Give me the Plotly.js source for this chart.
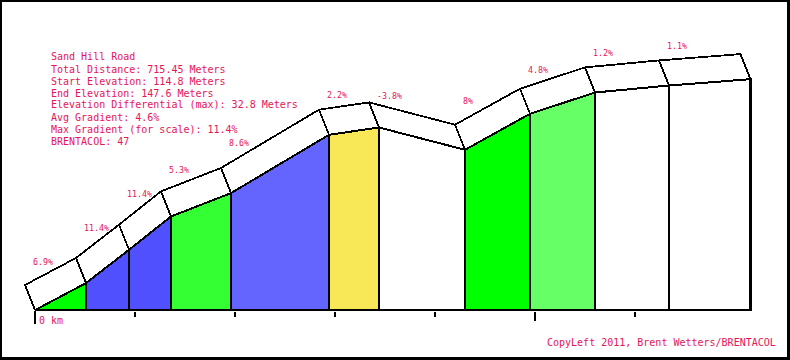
<!DOCTYPE html>
<html>
<head>
<meta charset="utf-8">
<script src="https://cdn.plot.ly/plotly-3.0.1.min.js"></script>
<style>
  html, body { margin: 0; padding: 0; background: #fff; }
  #wrap { position: relative; width: 790px; height: 360px; overflow: hidden; }
  #chart { position: absolute; left: 0; top: 0; width: 790px; height: 360px; }
  #chart .scatterlayer path { shape-rendering: crispEdges; }
  #frame { position: absolute; left: 0; top: 0; width: 790px; height: 360px; box-sizing: border-box;
           border-top: 2px solid #000; border-left: 2px solid #000; border-right: 3px solid #000; border-bottom: 3px solid #000;
           pointer-events: none; }
</style>
</head>
<body>
<div id="wrap"><div id="chart"></div><div id="frame"></div></div>
<script>
// ---------------- DATA ----------------
const dist = [0, 51, 94, 136, 196, 294, 344, 430, 495, 560, 634, 715.45];           // metres along road
const elev = [114.8, 118.64, 123.37, 128.10, 131.42, 139.70, 140.74, 137.57, 142.68, 145.71, 146.70, 147.6]; // metres
const gradients = [6.9, 11.4, 11.4, 5.3, 8.6, 2.2, -3.8, 8, 4.8, 1.2, 1.1];         // % per segment
const infoLines = [
  "Sand Hill Road",
  "Total Distance: 715.45 Meters",
  "Start Elevation: 114.8 Meters",
  "End Elevation: 147.6 Meters",
  "Elevation Differential (max): 32.8 Meters",
  "Avg Gradient: 4.6%",
  "Max Gradient (for scale): 11.4%",
  "BRENTACOL: 47"
];
const majorTicks = [0, 500];
const minorTicks = [100, 200, 300, 400, 600];
const axisLabel = "0 km";
const creditText = "CopyLeft 2011, Brent Wetters/BRENTACOL";

// ---------------- STYLE ----------------
const segColors = ['#00ff00', '#5050ff', '#5050ff', '#33ff33', '#6464ff', '#f8e858',
                   '#ffffff', '#00ff00', '#66ff66', '#ffffff', '#ffffff'];
const labelDy = [-48, -55, -56, -46, -50, -40, -31, -49, -44, -39, -39];
const textColor = '#e6145a';
const mono = 'DejaVu Sans Mono, Liberation Mono, monospace';

const W = 790, H = 360, marginB = 49, plotH = H - marginB;
const xOriginPx = 35, pxPerMx = 1;
const baselinePx = 310, pxPerMy = 7.04;
const xRange = [-xOriginPx / pxPerMx, (W - xOriginPx) / pxPerMx];
const yMax = elev[0] + baselinePx / pxPerMy;
const yMin = yMax - plotH / pxPerMy;
const depthX = -10 / pxPerMx;      // 3D offset of the back edge
const depthY = 25 / pxPerMy;

const base = elev[0];
const traces = [];
for (let i = 0; i < dist.length - 1; i++) {
  const d0 = dist[i], d1 = dist[i + 1], e0 = elev[i], e1 = elev[i + 1];
  traces.push({
    type: 'scatter', mode: 'lines', fill: 'toself', fillcolor: segColors[i],
    x: [d0, d0, d1, d1, d0], y: [base, e0, e1, base, base],
    line: { color: '#000', width: 2.2 }, hoverinfo: 'skip', showlegend: false
  });
}
for (let i = 0; i < dist.length - 1; i++) {
  const d0 = dist[i], d1 = dist[i + 1], e0 = elev[i], e1 = elev[i + 1];
  traces.push({
    type: 'scatter', mode: 'lines', fill: 'toself', fillcolor: '#ffffff',
    x: [d0, d1, d1 + depthX, d0 + depthX, d0], y: [e0, e1, e1 + depthY, e0 + depthY, e0],
    line: { color: '#000', width: 1.8 }, hoverinfo: 'skip', showlegend: false
  });
}

const annotations = [];
infoLines.forEach((t, k) => {
  annotations.push({
    text: t, xref: 'paper', yref: 'paper', x: 50 / W, y: 1 - (57 + 12 * k) / plotH,
    xanchor: 'left', yanchor: 'middle', showarrow: false, borderpad: 0,
    font: { family: mono, size: 10, color: textColor }
  });
});
gradients.forEach((g, i) => {
  annotations.push({
    text: g + '%', xref: 'x', yref: 'y', x: dist[i], y: elev[i],
    xanchor: 'left', yanchor: 'middle', xshift: -3, yshift: -labelDy[i], showarrow: false, borderpad: 0,
    font: { family: mono, size: 8.3, color: textColor }
  });
});
annotations.push({
  text: axisLabel, xref: 'x', yref: 'paper', x: dist[0], y: 0, xanchor: 'left', yanchor: 'middle',
  xshift: 3, yshift: -9, showarrow: false, borderpad: 0,
  font: { family: mono, size: 10, color: textColor }
});
annotations.push({
  text: creditText, xref: 'paper', yref: 'paper', x: 1, y: 0, xanchor: 'right', yanchor: 'middle',
  xshift: -13, yshift: -31, showarrow: false, borderpad: 0,
  font: { family: mono, size: 10, color: textColor }
});

const layout = {
  width: W, height: H,
  margin: { l: 0, r: 0, t: 0, b: marginB, pad: 0 },
  paper_bgcolor: '#ffffff', plot_bgcolor: '#ffffff',
  showlegend: false,
  xaxis: {
    range: xRange, showgrid: false, zeroline: false, showline: false, showticklabels: false,
    ticks: 'outside', tickmode: 'array', tickvals: majorTicks, ticklen: 9, tickwidth: 2, tickcolor: '#000',
    minor: { tickmode: 'array', tickvals: minorTicks, ticks: 'outside', ticklen: 5, tickwidth: 2, tickcolor: '#000', showgrid: false },
    fixedrange: true
  },
  yaxis: { range: [yMin, yMax], visible: false, fixedrange: true },
  shapes: [{
    type: 'line', xref: 'x', yref: 'paper', x0: dist[0], x1: dist[0], y0: 0, y1: -13 / plotH,
    line: { color: '#000', width: 2 }
  }],
  annotations: annotations
};

Plotly.newPlot('chart', traces, layout, { staticPlot: true, displayModeBar: false });
</script>
</body>
</html>
